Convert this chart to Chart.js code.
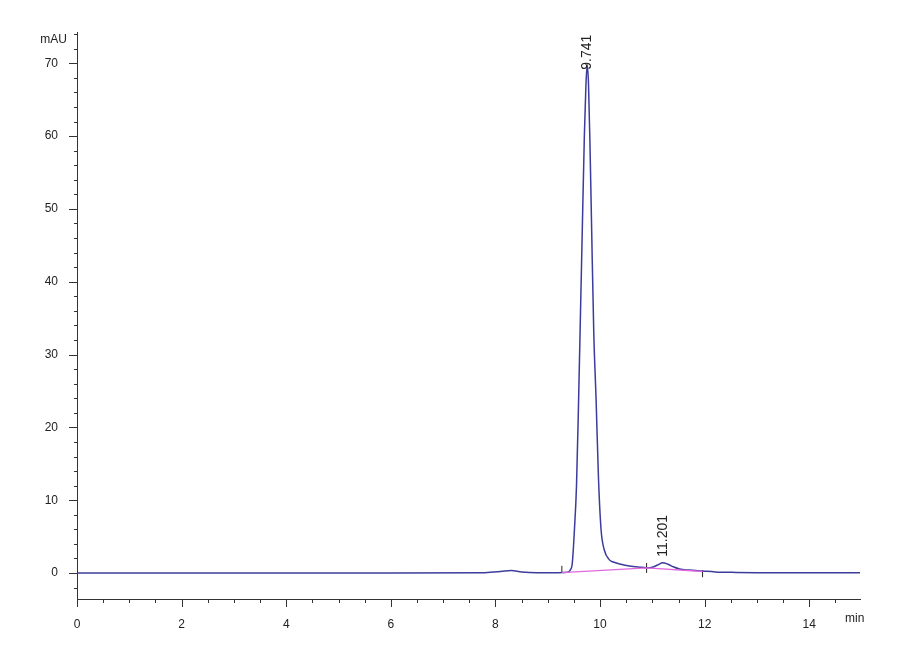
<!DOCTYPE html>
<html>
<head>
<meta charset="utf-8">
<script src="https://cdn.jsdelivr.net/npm/chart.js@4.4.1/dist/chart.umd.min.js"></script>
<style>
  body { margin: 0; background: #fff; }
  #wrap { width: 900px; height: 660px; }
</style>
</head>
<body>
<div id="wrap"><canvas id="hplcChart"></canvas></div>
<script>
// signal trace (min, mAU)
const times  = [0, 2, 4, 6, 7.8, 8.1, 8.3, 8.5, 8.8, 9.2, 9.38, 9.43, 9.47, 9.51, 9.55, 9.59, 9.63, 9.66, 9.70, 9.73, 9.755, 9.78, 9.81, 9.84, 9.88, 9.925, 9.97, 10.02, 10.08, 10.18, 10.24, 10.4, 10.56, 10.75, 10.89, 11.0, 11.1, 11.2, 11.3, 11.4, 11.52, 11.7, 11.96, 12.2, 12.6, 13, 14, 14.97];
const values = [0, 0, 0, 0, 0.05, 0.2, 0.35, 0.15, 0.05, 0.05, 0.1, 0.4, 1.4, 5.9, 12, 23.7, 37, 47, 60, 67, 69.8, 67, 58, 47, 33, 23.7, 13, 5.9, 3.2, 1.8, 1.55, 1.2, 0.96, 0.8, 0.72, 0.8, 1.1, 1.42, 1.2, 0.85, 0.55, 0.4, 0.27, 0.15, 0.08, 0.05, 0.03, 0.03];

// integration baseline
const baseTimes  = [9.27, 10.89, 11.96];
const baseValues = [0.05, 0.7, 0.2];

// integration event marks
const markTimes  = [9.27, 10.89, 11.96];
const markValues = [0.5, 0.7, -0.1];

// peak labels
const peakNames   = ['9.741', '11.201'];
const peakTimes   = [9.755, 11.2];
const peakHeights = [69.8, 1.42];

const xTicks = [];
for (let i = 0; i <= 29; i++) xTicks.push(i * 0.5);
const yTicks = [];
for (let v = -2; v <= 74; v += 2) yTicks.push(v);

const FONT = "'Liberation Sans Narrow', 'Liberation Sans', Arial, sans-serif";
const labelShift = [5, -6]; // px below (+) or above (-) the apex where the text starts

const ctx = document.getElementById('hplcChart').getContext('2d');

const axisExtras = {
  id: 'axisExtras',
  afterDraw(chart) {
    const { ctx, scales: { x, y }, chartArea } = chart;
    ctx.save();
    ctx.strokeStyle = '#333';
    ctx.lineWidth = 1;
    ctx.beginPath();
    yTicks.forEach(v => {
      const py = Math.round(y.getPixelForValue(v)) + 0.5;
      const len = v % 10 === 0 ? 8 : 3;
      ctx.moveTo(chartArea.left - len, py);
      ctx.lineTo(chartArea.left, py);
    });
    xTicks.forEach(v => {
      const px = Math.round(x.getPixelForValue(v)) + 0.5;
      const len = v % 2 === 0 ? 8 : 4;
      ctx.moveTo(px, chartArea.bottom);
      ctx.lineTo(px, chartArea.bottom + len);
    });
    ctx.stroke();

    // unit labels
    ctx.fillStyle = '#222';
    ctx.font = '12px ' + FONT;
    ctx.textAlign = 'right';
    ctx.textBaseline = 'middle';
    ctx.fillText('mAU', 67, 40);
    ctx.textAlign = 'left';
    ctx.textBaseline = 'top';
    ctx.fillText('min', 845, 613);

    // peak retention time labels, rotated
    peakNames.forEach((name, i) => {
      const px = x.getPixelForValue(peakTimes[i]);
      const py = y.getPixelForValue(peakHeights[i]);
      ctx.save();
      ctx.translate(px, py + labelShift[i]);
      ctx.rotate(-Math.PI / 2);
      ctx.textAlign = 'left';
      ctx.textBaseline = 'middle';
      ctx.font = '14px ' + FONT;
      ctx.fillStyle = '#222';
      ctx.fillText(name, 0, 0);
      ctx.restore();
    });
    ctx.restore();
  }
};

new Chart(ctx, {
  type: 'line',
  data: {
    datasets: [
      {
        label: 'baseline',
        data: baseTimes.map((t, i) => ({ x: t, y: baseValues[i] })),
        borderColor: '#e06ae0',
        borderWidth: 1.4,
        pointRadius: 0,
        tension: 0
      },
      {
        label: 'signal',
        data: times.map((t, i) => ({ x: t, y: values[i] })),
        borderColor: '#3c3c9c',
        borderWidth: 1.5,
        pointRadius: 0,
        cubicInterpolationMode: 'monotone'
      },
      {
        label: 'marks',
        data: markTimes.map((t, i) => ({ x: t, y: markValues[i] })),
        showLine: false,
        pointStyle: 'line',
        rotation: 90,
        pointRadius: [3.5, 5, 3.5],
        borderColor: '#222',
        borderWidth: 1
      }
    ]
  },
  options: {
    responsive: true,
    maintainAspectRatio: false,
    animation: false,
    layout: { padding: { left: 0, right: 40, top: 32, bottom: 0 } },
    plugins: { legend: { display: false }, tooltip: { enabled: false } },
    scales: {
      x: {
        type: 'linear',
        min: 0,
        max: 14.97,
        afterBuildTicks: s => { s.ticks = xTicks.map(v => ({ value: v })); },
        afterFit: s => { s.height = 61; },
        grid: { display: false },
        border: { display: true, color: '#333', width: 1 },
        ticks: {
          autoSkip: false,
          maxRotation: 0,
          padding: 10,
          color: '#222',
          font: { family: FONT, size: 12 },
          callback: v => (v % 2 === 0 ? v : '')
        }
      },
      y: {
        type: 'linear',
        min: -3.57,
        max: 74.3,
        afterBuildTicks: s => { s.ticks = yTicks.map(v => ({ value: v })); },
        afterFit: s => { s.width = 77; },
        grid: { display: false },
        border: { display: true, color: '#333', width: 1 },
        ticks: {
          autoSkip: false,
          padding: 11,
          color: '#222',
          font: { family: FONT, size: 12 },
          callback: v => (v % 10 === 0 ? v : '')
        }
      }
    }
  },
  plugins: [axisExtras]
});
</script>
</body>
</html>
